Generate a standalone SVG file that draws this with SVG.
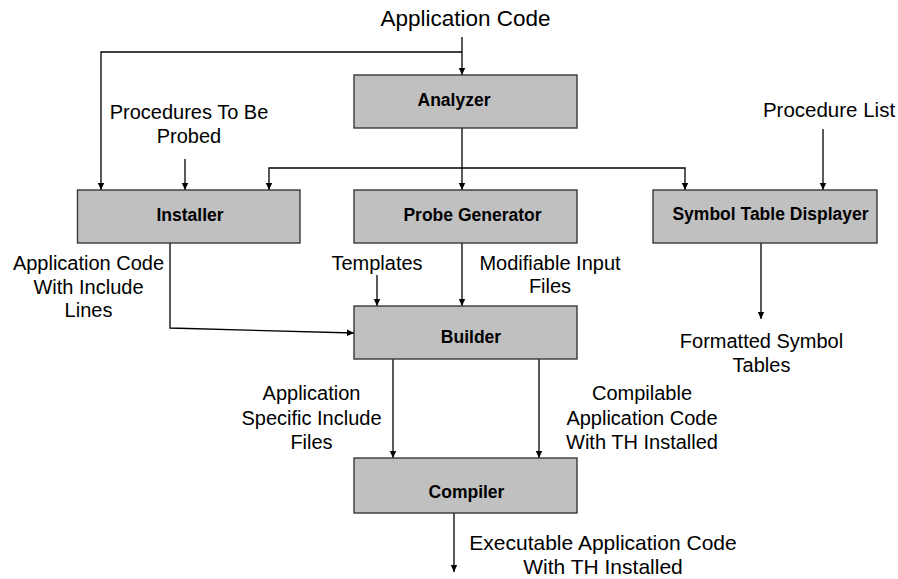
<svg xmlns="http://www.w3.org/2000/svg" width="898" height="579" viewBox="0 0 898 579">
<defs>
<marker id="ah" markerWidth="8" markerHeight="8" refX="7" refY="4" orient="auto" markerUnits="userSpaceOnUse">
<path d="M0,0.8 L7,4 L0,7.2 Z" fill="#000"/>
</marker>
<style>
.box{fill:#c0c0c0;stroke:#383838;stroke-width:1.4}
.bt{font-family:"Liberation Sans",Arial,sans-serif;font-weight:bold;font-size:17.5px;fill:#000;text-anchor:middle}
.lb{font-family:"Liberation Sans",Arial,sans-serif;font-size:20px;fill:#000;text-anchor:middle}
.c{fill:none;stroke:#000;stroke-width:1.3}
.a{marker-end:url(#ah)}
</style>
</defs>
<rect width="898" height="579" fill="#fff"/>
<g id="connectors">
<line class="c a" x1="462" y1="37" x2="462" y2="75"/>
<polyline class="c a" points="462,52 101,52 101,190"/>
<line class="c a" x1="185" y1="159" x2="185" y2="190"/>
<line class="c a" x1="462" y1="128" x2="462" y2="190"/>
<polyline class="c a" points="462,168 269,168 269,190"/>
<polyline class="c a" points="462,168 685,168 685,190"/>
<line class="c a" x1="823" y1="129" x2="823" y2="190"/>
<line class="c a" x1="761" y1="243" x2="761" y2="319"/>
<polyline class="c a" points="170,243 170,328 354,333"/>
<line class="c a" x1="377" y1="275" x2="377" y2="306"/>
<line class="c a" x1="462" y1="243" x2="462" y2="306"/>
<line class="c a" x1="393" y1="359" x2="393" y2="458"/>
<line class="c a" x1="539" y1="359" x2="539" y2="458"/>
<line class="c a" x1="454" y1="513" x2="454" y2="572"/>
</g>
<g id="analyzer">
<rect class="box" x="354" y="75" width="223" height="53"/>
<text class="bt" x="454" y="106">Analyzer</text>
</g>
<g id="installer">
<rect class="box" x="77.5" y="190" width="222.5" height="53"/>
<text class="bt" x="190" y="221">Installer</text>
</g>
<g id="probe-generator">
<rect class="box" x="354" y="190" width="223" height="53"/>
<text class="bt" x="472.5" y="221">Probe Generator</text>
</g>
<g id="symbol-table-displayer">
<rect class="box" x="653" y="190" width="224" height="53"/>
<text class="bt" x="770.5" y="220">Symbol Table Displayer</text>
</g>
<g id="builder">
<rect class="box" x="354" y="306" width="223" height="53"/>
<text class="bt" x="471" y="343">Builder</text>
</g>
<g id="compiler">
<rect class="box" x="354" y="458" width="223" height="55"/>
<text class="bt" x="466.5" y="497.5">Compiler</text>
</g>
<g id="labels">
<text class="lb" x="465.5" y="26" style="font-size:22.5px">Application Code</text>
<text class="lb" x="189" y="118.5">Procedures To Be</text>
<text class="lb" x="189" y="142.5">Probed</text>
<text class="lb" x="829" y="116.5" style="font-size:20.5px">Procedure List</text>
<text class="lb" x="88.5" y="270">Application Code</text>
<text class="lb" x="88.5" y="293.5">With Include</text>
<text class="lb" x="88.5" y="317">Lines</text>
<text class="lb" x="377" y="270">Templates</text>
<text class="lb" x="550" y="270">Modifiable Input</text>
<text class="lb" x="550" y="293">Files</text>
<text class="lb" x="761.5" y="347.5">Formatted Symbol</text>
<text class="lb" x="761.5" y="371.5">Tables</text>
<text class="lb" x="311.5" y="400">Application</text>
<text class="lb" x="311.5" y="425">Specific Include</text>
<text class="lb" x="311.5" y="449">Files</text>
<text class="lb" x="642" y="400">Compilable</text>
<text class="lb" x="642" y="425">Application Code</text>
<text class="lb" x="642" y="449">With TH Installed</text>
<text class="lb" x="603" y="550" style="font-size:21px">Executable Application Code</text>
<text class="lb" x="603" y="574" style="font-size:21px">With TH Installed</text>
</g>
</svg>
